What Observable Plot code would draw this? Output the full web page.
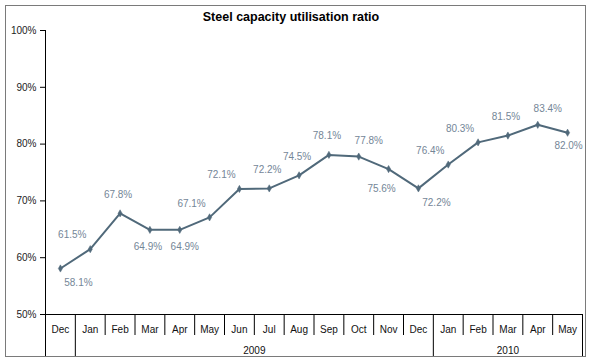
<!DOCTYPE html>
<html>
<head>
<meta charset="utf-8">
<script src="https://cdn.jsdelivr.net/npm/d3@7"></script>
<script src="https://cdn.jsdelivr.net/npm/@observablehq/plot@0.6"></script>
<style>
  html, body { margin: 0; padding: 0; background: #fff; }
  #wrap { position: relative; width: 590px; height: 363px; }
  #border { position: absolute; left: 5px; top: 5px; width: 579px; height: 350px; border: 1.5px solid #7a7a7a; pointer-events: none; }
  svg { font-family: "Liberation Sans", Arial, sans-serif; }
</style>
</head>
<body>
<div id="wrap"><div id="border"></div></div>
<script>
// ---- data ----
const months = ["Dec","Jan","Feb","Mar","Apr","May","Jun","Jul","Aug","Sep","Oct","Nov","Dec","Jan","Feb","Mar","Apr","May"];
const ratio = [58.1, 61.5, 67.8, 64.9, 64.9, 67.1, 72.1, 72.2, 74.5, 78.1, 77.8, 75.6, 72.2, 76.4, 80.3, 81.5, 83.4, 82.0];
const years = ["2009", "2010"];
const yearStart = [1, 13];   // index of first month in each year group
const yearEnd = [12, 17];    // index of last month in each year group
const yTicks = [50, 60, 70, 80, 90, 100];
const title = "Steel capacity utilisation ratio";

const data = months.map((m, i) => ({i, month: m, value: ratio[i]}));
const yearData = years.map((y, k) => ({year: y, mid: (yearStart[k] + yearEnd[k]) / 2}));

// label placement groups (by point index)
const place = {
  belowRight: [0, 12],
  belowA: [3],
  belowB: [4],
  belowLeft: [11],
  belowEnd: [17],
  aboveLeft: [1, 5, 6, 13, 14],
  above: [2, 7, 8, 9, 15],
  aboveRight: [10, 16]
};
const pick = idx => data.filter(d => idx.includes(d.i));

const lineColor = "#50697a";
const labelColor = "#748697";
const fmt = d => d.value.toFixed(1) + "%";
const lab = (idx, dx, dy) => Plot.text(pick(idx), {x: "i", y: "value", text: fmt, dx, dy, fill: labelColor, fontSize: 10});

// dividers between month cells
const shortTicks = d3.range(0.5, 17, 1).filter(v => v !== 0.5 && v !== 12.5);
const longTicks = [-0.5, 0.5, 12.5, 17.5];

const chart = Plot.plot({
  width: 590,
  height: 363,
  marginLeft: 45,
  marginRight: 8,
  marginTop: 30,
  marginBottom: 49,
  x: {type: "linear", domain: [-0.5, 17.5]},
  y: {domain: [50, 100]},
  style: {fontFamily: "Liberation Sans, Arial, sans-serif", fontSize: "10px", color: "#222", background: "transparent"},
  marks: [
    Plot.ruleX([-0.5], {stroke: "#000", strokeWidth: 1}),
    Plot.ruleY([50], {stroke: "#000", strokeWidth: 1}),
    Plot.axisY({ticks: yTicks, tickSize: 5, tickPadding: 4, tickFormat: d => d + "%", label: null, fontSize: 10, stroke: "#000"}),
    Plot.axisX({ticks: shortTicks, tickSize: 21, tickFormat: () => "", label: null, stroke: "#000"}),
    Plot.axisX({ticks: longTicks, tickSize: 43, tickFormat: () => "", label: null, stroke: "#000"}),
    Plot.text(data, {x: "i", text: "month", frameAnchor: "bottom", lineAnchor: "middle", dy: 15, fontSize: 10, fill: "#111"}),
    Plot.text(yearData, {x: "mid", text: "year", frameAnchor: "bottom", lineAnchor: "middle", dy: 36, fontSize: 10, fill: "#111"}),
    Plot.line(data, {x: "i", y: "value", stroke: lineColor, strokeWidth: 2}),
    Plot.dot(data, {x: "i", y: "value", symbol: "diamond", r: 2.2, fill: lineColor, stroke: lineColor, strokeWidth: 0.5}),
    lab(place.belowRight, 18, 14),
    lab(place.belowA, -2, 17),
    lab(place.belowB, 5, 17),
    lab(place.belowLeft, -7, 20),
    lab(place.belowEnd, 1, 13),
    lab(place.aboveLeft, -18, -14),
    lab(place.above, -2, -19),
    lab(place.aboveRight, 10, -16),
    Plot.text([title], {frameAnchor: "top", lineAnchor: "middle", dx: -23, dy: -14, fontSize: 12.5, fontWeight: "bold", fill: "#000"})
  ]
});
document.getElementById("wrap").prepend(chart);
</script>
</body>
</html>
